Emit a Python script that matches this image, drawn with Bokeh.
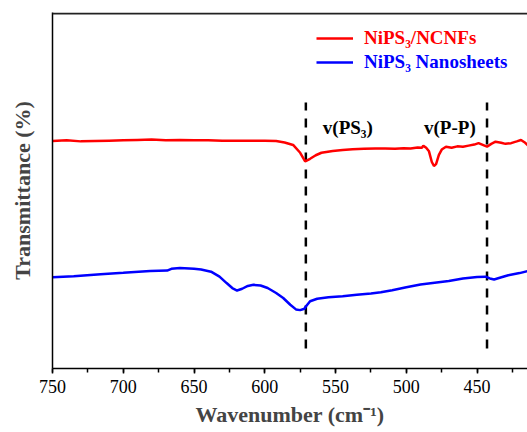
from bokeh.plotting import figure
from bokeh.models import Range1d, SingleIntervalTicker, FixedTicker, Span, Legend, LegendItem
from bokeh.embed import file_html
from bokeh.resources import INLINE
from bokeh.core.properties import value

# ---- data ----
red_wn = [750, 740, 730, 720, 710, 700, 690, 680, 670, 660, 650, 640, 630, 620, 610, 600,
          592, 586, 580, 575, 571.5, 568, 564, 560, 552, 545, 538, 530, 522, 515, 508, 502,
          497, 492, 489, 488, 486, 484, 482, 480.5, 479, 477, 475, 472, 468, 464, 460, 456,
          452, 449, 446, 443, 440, 437, 433, 430, 426, 422, 419, 416, 414]
red_t = [63.9, 64.1, 63.8, 63.9, 64.0, 64.1, 64.2, 64.3, 64.1, 64.2, 64.1, 64.1, 64.0, 64.0, 64.0, 64.0,
         63.9, 63.5, 62.8, 60.6, 58.2, 58.9, 59.9, 60.6, 61.1, 61.4, 61.6, 61.7, 61.8, 61.8, 61.7, 61.9,
         61.8, 62.1, 62.0, 62.6, 62.0, 61.0, 58.0, 56.9, 57.4, 60.0, 61.5, 62.3, 62.0, 62.4, 62.3, 62.6,
         62.9, 63.3, 62.8, 62.3, 63.1, 63.7, 63.4, 63.1, 63.3, 63.8, 64.2, 63.4, 62.6]

blue_wn = [750, 735, 716, 700, 681, 669, 666, 660, 650, 645, 638, 632, 627, 623, 619.6, 616, 612,
           608, 603, 598, 592, 587, 582, 578, 575, 572, 571, 568, 563, 555, 545, 535, 525, 518,
           510, 500, 490, 480, 470, 460, 450, 444, 441, 438, 434, 428, 420, 414]
blue_t = [25.6, 25.9, 26.5, 26.9, 27.4, 27.5, 28.0, 28.2, 28.0, 27.8, 27.2, 25.8, 24.0, 22.6, 21.9,
          22.4, 23.2, 23.5, 23.3, 22.6, 21.2, 19.8, 17.9, 16.6, 16.4, 16.8, 17.4, 18.9, 19.6, 20.0,
          20.3, 20.7, 21.1, 21.4, 22.0, 22.8, 23.6, 24.1, 24.6, 25.3, 25.7, 25.8, 25.3, 25.0, 25.5,
          26.2, 26.8, 27.4]

peaks = [571, 443]
peak_labels = ["v(PS\u2083)", "v(P-P)"]
peak_label_x = [559, 487.5]
series_names = ["NiPS\u2083/NCNFs", "NiPS\u2083 Nanosheets"]

FONT = "Liberation Serif"

p = figure(width=527, height=432, output_backend="svg", toolbar_location=None,
           x_range=Range1d(750, 414.4), y_range=Range1d(0, 100),
           min_border_left=52, min_border_right=0, min_border_top=12, min_border_bottom=64)

p.outline_line_color = None
p.xgrid.grid_line_color = None
p.ygrid.grid_line_color = None
p.background_fill_color = "white"
p.border_fill_color = "white"

# x axis
p.xaxis.ticker = SingleIntervalTicker(interval=50, num_minor_ticks=2)
p.xaxis.axis_label = "Wavenumber (cm\u207b\u00b9)"
p.xaxis.axis_label_text_font = FONT
p.xaxis.axis_label_text_font_style = "bold"
p.xaxis.axis_label_text_font_size = "22px"
p.xaxis.axis_label_standoff = 6
p.xaxis.major_label_text_font = FONT
p.xaxis.major_label_text_font_style = "normal"
p.xaxis.major_label_text_font_size = "18px"
p.xaxis.major_label_text_color = "black"
p.xaxis.major_label_standoff = 6
p.xaxis.axis_line_width = 1.5
p.xaxis.axis_line_color = "black"
p.xaxis.major_tick_in = 0
p.xaxis.major_tick_out = 5
p.xaxis.minor_tick_in = 0
p.xaxis.minor_tick_out = 4
p.xaxis.major_tick_line_width = 1.5
p.xaxis.minor_tick_line_width = 1.5
p.xaxis.major_tick_line_color = "black"
p.xaxis.minor_tick_line_color = "black"

# y axis
p.yaxis.ticker = FixedTicker(ticks=[])
p.yaxis.axis_label = "Transmittance (%)"
p.yaxis.axis_label_text_font = FONT
p.yaxis.axis_label_text_font_style = "bold"
p.yaxis.axis_label_text_font_size = "22px"
p.yaxis.axis_label_standoff = 18
p.yaxis.axis_line_width = 1.5
p.yaxis.axis_line_color = "black"

# top frame line
p.add_layout(Span(location=99.7, dimension="width", line_color="#222222", line_width=2))

# dashed guide lines at peak positions
p.segment(x0=peaks, y0=[5.6] * len(peaks), x1=peaks, y1=[74.7] * len(peaks),
          line_color="black", line_width=2.5, line_dash="9 8")

r_red = p.line(red_wn, red_t, line_color="#FF0000", line_width=2.5)
r_blue = p.line(blue_wn, blue_t, line_color="#0000FF", line_width=2.5)

p.text(x=peak_label_x, y=[67.7] * len(peak_labels), text=peak_labels,
       text_font=value(FONT), text_font_style="bold", text_font_size="19px",
       text_align="left", text_baseline="middle", text_color="black")

def make_legend(name, rend, color, loc):
    lg = Legend(items=[LegendItem(label=name, renderers=[rend])], location=loc,
                border_line_color=None, background_fill_alpha=0, padding=0, margin=0,
                glyph_width=37, glyph_height=20, label_standoff=11, label_height=20,
                label_text_font=FONT, label_text_font_style="bold",
                label_text_font_size="19px", label_text_color=color)
    return lg

p.add_layout(make_legend(series_names[0], r_red, "#FF0000", (264, 319)))
p.add_layout(make_legend(series_names[1], r_blue, "#0000FF", (264, 295)))

open("out.html", "w").write(file_html(p, INLINE))
